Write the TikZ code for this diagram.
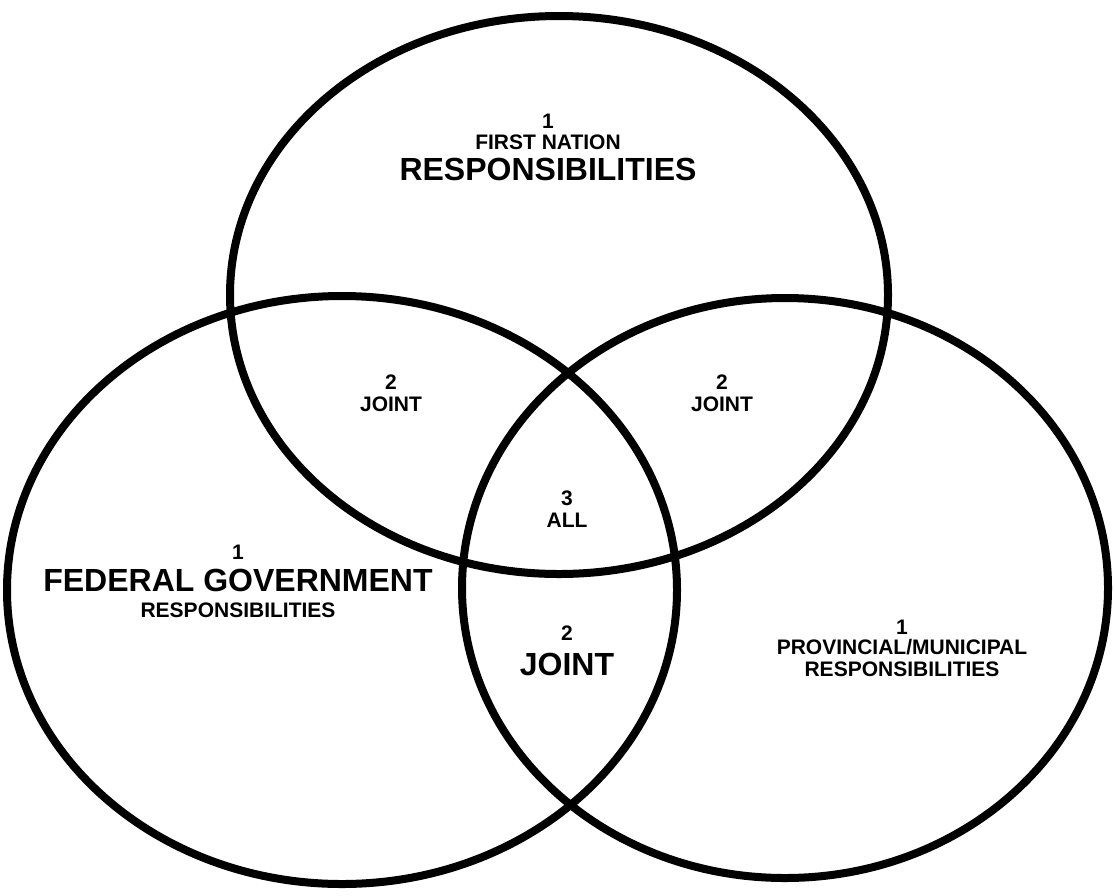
\documentclass[tikz,border=0pt]{standalone}
\usepackage{fontspec}
\setmainfont{Liberation Sans}
\usetikzlibrary{positioning}

\begin{document}
\begin{tikzpicture}[
    x=1pt, y=-1pt,
    ring/.style = {draw=black, line width=8pt},
    smalltxt/.style = {inner sep=0pt, align=center,
        font=\bfseries\fontsize{21}{21}\selectfont},
    bigtxt/.style = {inner sep=0pt, align=center,
        font=\bfseries\fontsize{32}{32}\selectfont}
]
\useasboundingbox (0,0) rectangle (1115,895);

% ---- Circles ----
\draw[ring] (559,295) ellipse [x radius=329, y radius=279];
\draw[ring] (342,590) ellipse [x radius=335, y radius=294];
\draw[ring] (785,588) ellipse [x radius=323, y radius=290];

% ---- First Nation ----
\node[smalltxt] (fnnum) at (548,121) {1};
\node[smalltxt, below=6pt of fnnum] (fnname) {FIRST NATION};
\node[bigtxt, below=8pt of fnname] (fnresp) {RESPONSIBILITIES};

% ---- Federal ----
\node[smalltxt] (fednum) at (238,552) {1};
\node[bigtxt, below=10pt of fednum] (fedname) {FEDERAL GOVERNMENT};
\node[smalltxt, below=10pt of fedname] (fedresp) {RESPONSIBILITIES};

% ---- Provincial ----
\node[smalltxt] (provnum) at (902,627) {1};
\node[smalltxt, below=5pt of provnum] (provname) {PROVINCIAL/MUNICIPAL};
\node[smalltxt, below=6pt of provname] (provresp) {RESPONSIBILITIES};

% ---- Overlaps ----
\node[smalltxt] (jlnum) at (391,382) {2};
\node[smalltxt, below=7pt of jlnum] (jlname) {JOINT};
\node[smalltxt] (jrnum) at (722,382) {2};
\node[smalltxt, below=7pt of jrnum] (jrname) {JOINT};
\node[smalltxt] (allnum) at (567,498) {3};
\node[smalltxt, below=7pt of allnum] (allname) {ALL};
\node[smalltxt] (jbnum) at (567,633) {2};
\node[bigtxt, below=12pt of jbnum] (jbname) {JOINT};

\end{tikzpicture}
\end{document}
